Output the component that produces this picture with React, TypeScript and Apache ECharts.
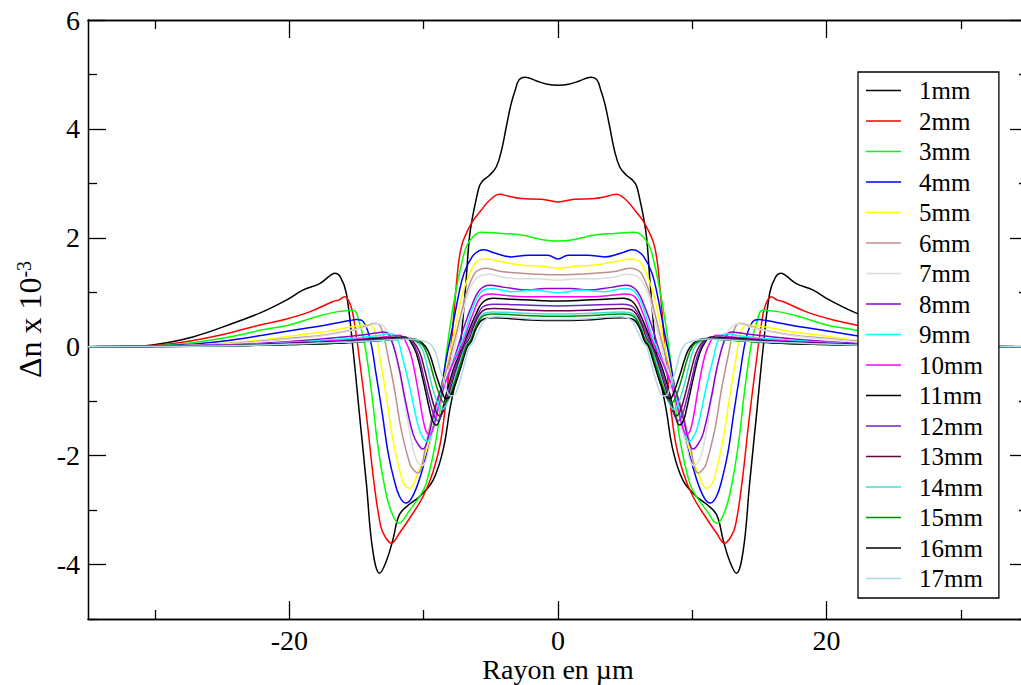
import React, { useEffect, useRef } from "react";
import * as echarts from "echarts";

// Half profiles (x >= 0, µm) of Δn x 10^-3; the curves are symmetric about x = 0.
const mm1: [number, number][] = [[0,4.80],[0.8,4.82],[1.6,4.88],[2.45,4.95],[2.9,4.9],[3.2,4.7],[3.5,4.45],[3.85,4.04],[4.2,3.61],[4.6,3.30],[5.1,3.15],[5.6,3.05],[5.85,2.95],[6.1,2.7],[6.35,2.4],[6.6,2.0],[6.85,1.2],[7.3,-0.06],[7.7,-0.7],[8.06,-1.16],[8.56,-1.9],[9.3,-2.45],[10.3,-2.75],[11.0,-2.88],[11.8,-3.08],[12.3,-3.55],[12.8,-3.95],[13.28,-4.16],[13.8,-3.73],[14.27,-2.51],[14.77,-1.28],[15.26,-0.06],[15.76,0.98],[16.2,1.28],[16.63,1.35],[17.0,1.3],[17.75,1.16],[19.0,1.04],[20.2,0.86],[22,0.64],[24.2,0.43],[27.2,0.18],[30.2,0.03],[32,0.0],[35,0]];
const mm2: [number, number][] = [[0,2.66],[1.24,2.71],[2.73,2.72],[3.6,2.76],[4.35,2.80],[5.09,2.69],[5.71,2.51],[6.46,2.26],[7.2,1.83],[7.6,1.05],[8.06,-0.3],[8.68,-1.65],[9.31,-2.3],[10.05,-2.75],[11.05,-3.15],[11.8,-3.42],[12.41,-3.61],[12.85,-3.5],[13.2,-3.3],[13.7,-2.5],[14.2,-1.4],[14.7,-0.4],[15.2,0.5],[15.5,0.8],[15.89,0.92],[16.3,0.86],[16.75,0.83],[18.5,0.64],[20.5,0.49],[22.2,0.40],[25.2,0.21],[27.5,0.1],[29.7,0.03],[32,0],[35,0]];
const mm3: [number, number][] = [[0,1.94],[1.24,1.97],[2.73,2.05],[4.22,2.08],[5.71,2.10],[6.33,2.02],[6.83,1.83],[7.2,1.5],[7.5,1.15],[7.9,0.6],[8.3,-0.1],[8.6,-0.75],[9.06,-1.68],[9.8,-2.5],[10.3,-2.75],[11.05,-3.0],[11.85,-3.24],[12.3,-3.1],[12.8,-2.7],[13.4,-1.85],[13.9,-0.8],[14.4,0.05],[14.8,0.45],[15.25,0.67],[16.5,0.64],[18,0.55],[20,0.40],[22,0.31],[24,0.2],[25.9,0.12],[29,0.03],[32,0],[35,0]];
const mm4: [number, number][] = [[0,1.61],[0.75,1.68],[2.23,1.68],[3.47,1.65],[4.71,1.72],[5.5,1.78],[5.9,1.76],[6.4,1.65],[7.0,1.35],[7.4,0.95],[7.9,0.3],[8.3,-0.2],[8.8,-0.9],[9.4,-1.6],[10.3,-2.42],[10.9,-2.78],[11.35,-2.87],[11.8,-2.75],[12.2,-2.45],[12.65,-1.95],[13.1,-1.2],[13.55,-0.5],[14.0,0.15],[14.5,0.46],[15.0,0.5],[15.5,0.48],[17.25,0.40],[19.5,0.31],[22,0.21],[25,0.1],[28,0.03],[32,0],[35,0]];
const mm5: [number, number][] = [[0,1.44],[1.24,1.48],[2.73,1.50],[4.22,1.56],[5.4,1.61],[5.8,1.6],[6.2,1.53],[6.95,1.10],[7.45,0.61],[7.94,0.0],[8.5,-0.6],[9.06,-1.22],[9.81,-1.90],[10.55,-2.39],[11.05,-2.60],[11.4,-2.55],[11.67,-2.39],[12.29,-1.71],[12.78,-0.92],[13.28,-0.18],[13.6,0.25],[14.03,0.40],[15.27,0.37],[17.25,0.28],[19.73,0.20],[22.2,0.12],[25,0.06],[28,0.02],[32,0],[35,0]];
const mm6: [number, number][] = [[0,1.32],[1.5,1.33],[2.73,1.35],[4.22,1.38],[5.34,1.44],[5.8,1.42],[6.2,1.35],[6.83,0.98],[7.33,0.49],[7.82,0.0],[8.5,-0.6],[9.31,-1.22],[9.81,-1.77],[10.42,-2.32],[10.8,-2.25],[11.05,-2.14],[11.67,-1.53],[12.17,-0.79],[12.66,-0.18],[13.1,0.3],[13.53,0.43],[14.77,0.34],[17.25,0.22],[19.73,0.16],[22.2,0.10],[25,0.05],[28,0.02],[32,0],[35,0]];
const mm7: [number, number][] = [[0,1.22],[1.5,1.25],[3,1.25],[4.22,1.28],[5.09,1.33],[5.96,1.28],[6.7,0.98],[7.2,0.49],[7.7,0.0],[8.3,-0.6],[9.0,-1.25],[9.5,-1.75],[10.1,-2.18],[10.5,-2.1],[10.9,-1.75],[11.4,-1.05],[11.9,-0.35],[12.4,0.15],[13.0,0.38],[13.5,0.42],[14.5,0.35],[17,0.22],[20,0.14],[22.2,0.09],[25,0.05],[28,0.02],[32,0],[35,0]];
const mm8: [number, number][] = [[0,1.07],[1.0,1.07],[2.23,1.04],[3.97,1.09],[5.09,1.13],[5.83,1.04],[6.46,0.73],[7.07,0.31],[7.45,0.0],[8.2,-0.55],[8.81,-0.85],[9.31,-1.3],[9.7,-1.7],[10.05,-1.88],[10.4,-1.8],[10.8,-1.6],[11.42,-0.92],[11.91,-0.31],[12.54,0.2],[13.0,0.27],[13.53,0.25],[16.0,0.18],[19.7,0.10],[22.2,0.06],[26,0.03],[30,0.01],[35,0]];
const mm9: [number, number][] = [[0,0.99],[1.74,1.04],[3.47,1.01],[4.96,1.07],[5.71,1.01],[6.33,0.73],[6.95,0.25],[7.33,0.0],[8.0,-0.4],[8.56,-0.75],[9.06,-1.22],[9.45,-1.6],[9.75,-1.74],[10.1,-1.65],[10.42,-1.45],[11.05,-0.73],[11.54,-0.24],[12.04,0.18],[12.6,0.24],[13.5,0.2],[16,0.14],[20,0.08],[22.2,0.05],[26,0.02],[30,0.01],[35,0]];
const mm10: [number, number][] = [[0,0.92],[2.5,0.92],[4.22,0.95],[4.96,0.97],[5.71,0.92],[6.33,0.61],[6.83,0.25],[7.2,0.0],[7.9,-0.35],[8.44,-0.7],[8.94,-1.16],[9.3,-1.5],[9.56,-1.62],[9.9,-1.5],[10.42,-0.8],[10.92,-0.18],[11.4,0.12],[11.8,0.21],[13,0.18],[16,0.12],[20,0.07],[23,0.04],[27,0.01],[35,0]];
const mm11: [number, number][] = [[0,0.84],[1.5,0.85],[3.5,0.87],[4.8,0.89],[5.58,0.82],[6.2,0.55],[6.7,0.25],[7.07,0.0],[7.7,-0.35],[8.3,-0.85],[8.7,-1.25],[9.06,-1.44],[9.35,-1.35],[9.56,-1.16],[10.05,-0.61],[10.55,-0.12],[11.0,0.1],[11.4,0.18],[13,0.16],[16,0.10],[20,0.06],[23,0.03],[27,0.01],[35,0]];
const mm12: [number, number][] = [[0,0.75],[2,0.76],[4.8,0.78],[5.6,0.73],[6.2,0.47],[6.7,0.18],[7.0,0.0],[7.6,-0.35],[8.2,-0.85],[8.6,-1.2],[8.94,-1.36],[9.25,-1.25],[9.6,-0.95],[10.0,-0.55],[10.4,-0.15],[10.9,0.1],[11.3,0.16],[13,0.14],[16,0.09],[20,0.05],[24,0.02],[35,0]];
const mm13: [number, number][] = [[0,0.66],[2,0.67],[4.8,0.70],[5.6,0.66],[6.2,0.42],[6.6,0.15],[6.95,0.0],[7.5,-0.35],[8.1,-0.85],[8.5,-1.15],[8.8,-1.27],[9.1,-1.18],[9.5,-0.85],[9.9,-0.45],[10.3,-0.1],[10.8,0.1],[11.2,0.15],[13,0.13],[16,0.08],[20,0.05],[24,0.02],[35,0]];
const mm14: [number, number][] = [[0,0.60],[2,0.61],[4.8,0.64],[5.6,0.6],[6.1,0.4],[6.55,0.12],[6.9,0.0],[7.4,-0.35],[8.0,-0.85],[8.35,-1.08],[8.65,-1.15],[8.95,-1.05],[9.35,-0.75],[9.75,-0.35],[10.1,-0.05],[10.6,0.1],[11.1,0.14],[13,0.12],[16,0.08],[20,0.04],[24,0.02],[35,0]];
const mm15: [number, number][] = [[0,0.56],[2,0.57],[4.8,0.60],[5.6,0.56],[6.1,0.38],[6.5,0.12],[6.85,0.0],[7.3,-0.35],[7.9,-0.8],[8.2,-0.98],[8.5,-1.02],[8.8,-0.9],[9.2,-0.6],[9.6,-0.25],[10.0,0.0],[10.5,0.1],[11.0,0.14],[13,0.12],[16,0.07],[20,0.04],[24,0.02],[35,0]];
const mm16: [number, number][] = [[0,0.48],[2,0.49],[4.8,0.53],[5.6,0.5],[6.1,0.33],[6.45,0.1],[6.75,0.0],[7.2,-0.35],[7.8,-0.8],[8.1,-0.93],[8.35,-0.95],[8.65,-0.82],[9.1,-0.5],[9.5,-0.18],[9.85,0.0],[10.4,0.12],[11.0,0.15],[13,0.12],[16,0.07],[20,0.04],[24,0.02],[35,0]];
const mm17: [number, number][] = [[0,0.50],[2,0.51],[4.6,0.55],[5.4,0.5],[5.9,0.3],[6.3,0.08],[6.6,0.0],[7.0,-0.35],[7.5,-0.78],[7.8,-0.9],[8.05,-0.9],[8.4,-0.7],[8.8,-0.4],[9.1,-0.12],[9.5,0.05],[10.3,0.12],[11.05,0.14],[13,0.12],[16,0.08],[20,0.05],[24,0.02],[35,0]];

const seriesNames = ["1mm","2mm","3mm","4mm","5mm","6mm","7mm","8mm","9mm","10mm","11mm","12mm","13mm","14mm","15mm","16mm","17mm"];
const seriesHalves = [mm1, mm2, mm3, mm4, mm5, mm6, mm7, mm8, mm9, mm10, mm11, mm12, mm13, mm14, mm15, mm16, mm17];
const seriesColors = ["#000000","#ff0000","#00ff00","#0000ff","#ffff00","#bc8f8f","#dcdcdc","#9400d3","#00ffff","#ff00ff","#000000","#7221bc","#670748","#40e0d0","#008b00","#000000","#add8e6"];

const X_MAJOR = [-20, 0, 20];
const X_MINOR = [-30, -10, 10, 30];
const Y_MAJOR = [-4, -2, 0, 2, 4, 6];
const Y_MINOR = [-5, -3, -1, 1, 3, 5];

const FONT = "Liberation Serif";

function mirror(half: [number, number][]): [number, number][] {
  const left = half.filter((p) => p[0] > 0).map(([x, y]) => [-x, y] as [number, number]).reverse();
  return [...left, ...half];
}

export default function App() {
  const ref = useRef<HTMLDivElement>(null);
  useEffect(() => {
    if (!ref.current) return;
    const chart = echarts.init(ref.current, null, { renderer: "svg" });
    const axLine = { show: true, onZero: false, lineStyle: { color: "#000", width: 1.3 } };
    const tickStyle = { color: "#000", width: 1.3 };
    const baseX = { type: "value", min: -35, max: 35, axisLine: axLine, splitLine: { show: false } };
    const baseY = { type: "value", min: -5, max: 6, interval: 1, axisLine: axLine, splitLine: { show: false } };
    const labelStyle = { color: "#000", fontFamily: FONT, fontSize: 28 };
    chart.setOption({
      animation: false,
      backgroundColor: "#fff",
      textStyle: { fontFamily: FONT },
      grid: { left: 88, width: 940, top: 20, height: 599, outerBoundsMode: "none", containLabel: false },
      legend: {
        orient: "vertical",
        left: 858,
        top: 72,
        padding: [6, 16, 7, 8],
        icon: "rect",
        itemWidth: 35,
        itemHeight: 1.6,
        itemGap: 5.5,
        borderColor: "#000",
        borderWidth: 1.3,
        backgroundColor: "#fff",
        selectedMode: false,
        data: seriesNames,
        textStyle: { color: "#000", fontFamily: FONT, fontSize: 25, lineHeight: 22, padding: [0, 0, 0, 13] },
      },
      xAxis: [
        {
          ...baseX, position: "bottom",
          axisTick: { inside: true, length: 18, customValues: X_MAJOR, lineStyle: tickStyle },
          axisLabel: { ...labelStyle, lineHeight: 24, customValues: X_MAJOR, margin: 9 },
          name: "Rayon en µm", nameLocation: "middle", nameGap: 37, nameMoveOverlap: false,
          nameTextStyle: { color: "#000", fontFamily: FONT, fontSize: 28, lineHeight: 26 },
        },
        { ...baseX, position: "bottom", axisTick: { inside: true, length: 9, customValues: X_MINOR, lineStyle: tickStyle }, axisLabel: { show: false } },
        { ...baseX, position: "top", axisTick: { inside: true, length: 18, customValues: X_MAJOR, lineStyle: tickStyle }, axisLabel: { show: false } },
        { ...baseX, position: "top", axisTick: { inside: true, length: 9, customValues: X_MINOR, lineStyle: tickStyle }, axisLabel: { show: false } },
      ],
      yAxis: [
        {
          ...baseY, position: "left",
          axisTick: { inside: true, length: 18, customValues: Y_MAJOR, lineStyle: tickStyle },
          axisLabel: { ...labelStyle, customValues: Y_MAJOR, margin: 8 },
          name: "{a|Δn x 10}{s|-3}", nameLocation: "middle", nameGap: 38,
          nameTextStyle: {
            color: "#000", fontFamily: FONT, fontSize: 32,
            rich: {
              a: { fontFamily: FONT, fontSize: 32, color: "#000", verticalAlign: "bottom" },
              s: { fontFamily: FONT, fontSize: 20, color: "#000", verticalAlign: "top" },
            },
          },
        },
        { ...baseY, position: "left", axisTick: { inside: true, length: 9, customValues: Y_MINOR, lineStyle: tickStyle }, axisLabel: { show: false } },
        { ...baseY, position: "right", axisTick: { inside: true, length: 18, customValues: Y_MAJOR, lineStyle: tickStyle }, axisLabel: { show: false } },
        { ...baseY, position: "right", axisTick: { inside: true, length: 9, customValues: Y_MINOR, lineStyle: tickStyle }, axisLabel: { show: false } },
      ],
      series: seriesNames.map((name, i) => ({
        name,
        type: "line",
        xAxisIndex: 0,
        yAxisIndex: 0,
        data: mirror(seriesHalves[i]),
        symbol: "none",
        showSymbol: false,
        smooth: 0.4,
        lineStyle: { color: seriesColors[i], width: 1.5 },
        itemStyle: { color: seriesColors[i] },
      })),
    });
    return () => chart.dispose();
  }, []);
  return <div ref={ref} style={{ position: "fixed", left: 0, top: 0, width: 1021, height: 685 }} />;
}
